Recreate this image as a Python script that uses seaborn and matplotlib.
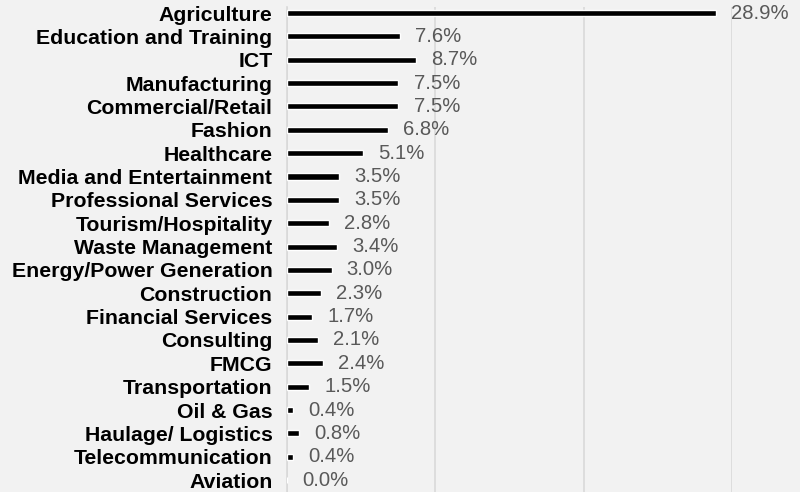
import matplotlib
matplotlib.use("Agg")
import matplotlib.pyplot as plt
import seaborn as sns
import pandas as pd

sectors = [
    "Agriculture", "Education and Training", "ICT", "Manufacturing",
    "Commercial/Retail", "Fashion", "Healthcare", "Media and Entertainment",
    "Professional Services", "Tourism/Hospitality", "Waste Management",
    "Energy/Power Generation", "Construction", "Financial Services",
    "Consulting", "FMCG", "Transportation", "Oil & Gas",
    "Haulage/ Logistics", "Telecommunication", "Aviation",
]
shares = [
    28.9, 7.6, 8.7, 7.5, 7.5, 6.8, 5.1, 3.5, 3.5, 2.8, 3.4,
    3.0, 2.3, 1.7, 2.1, 2.4, 1.5, 0.4, 0.8, 0.4, 0.0,
]
x_ticks = [0, 10, 20, 30]

df = pd.DataFrame({"sector": sectors, "share": shares})

sns.set_theme(style="white")
plt.rcParams["font.family"] = ["Liberation Sans", "DejaVu Sans"]

bg = "#F2F2F2"
fig = plt.figure(figsize=(8.0, 4.92), dpi=100, facecolor=bg)
ax = fig.add_axes([287 / 800, 0.0, (732 - 287) / 800, 1 - 7 / 492])
ax.set_facecolor(bg)

sns.barplot(data=df, x="share", y="sector", orient="h", color="black",
            width=0.26, saturation=1, ax=ax, zorder=3)

ax.set_xlim(0, 30)
n = len(sectors)
ax.set_ylim(20.51, -0.257)
ax.set_xticks(x_ticks)
ax.set_xticklabels([])
ax.tick_params(axis="both", length=0)
ax.grid(axis="x", color="#D9D9D9", lw=1.2, zorder=0)
ax.set_xlabel("")
ax.set_ylabel("")
for s in ["top", "right", "bottom"]:
    ax.spines[s].set_visible(False)
ax.spines["left"].set_color("#D9D9D9")
ax.spines["left"].set_linewidth(1.2)

ax.set_yticks(range(n))
ax.set_yticklabels(sectors, fontsize=15.3, fontweight="bold", color="black")
ax.tick_params(axis="y", pad=10.5)

for i, v in enumerate(shares):
    ax.annotate(f"{v:.1f}%", xy=(v, i), xytext=(11, 0),
                textcoords="offset points", va="center", ha="left",
                fontsize=14.6, color="#595959", clip_on=False,
                annotation_clip=False)

fig.savefig("out.png", dpi=100, facecolor=bg)
